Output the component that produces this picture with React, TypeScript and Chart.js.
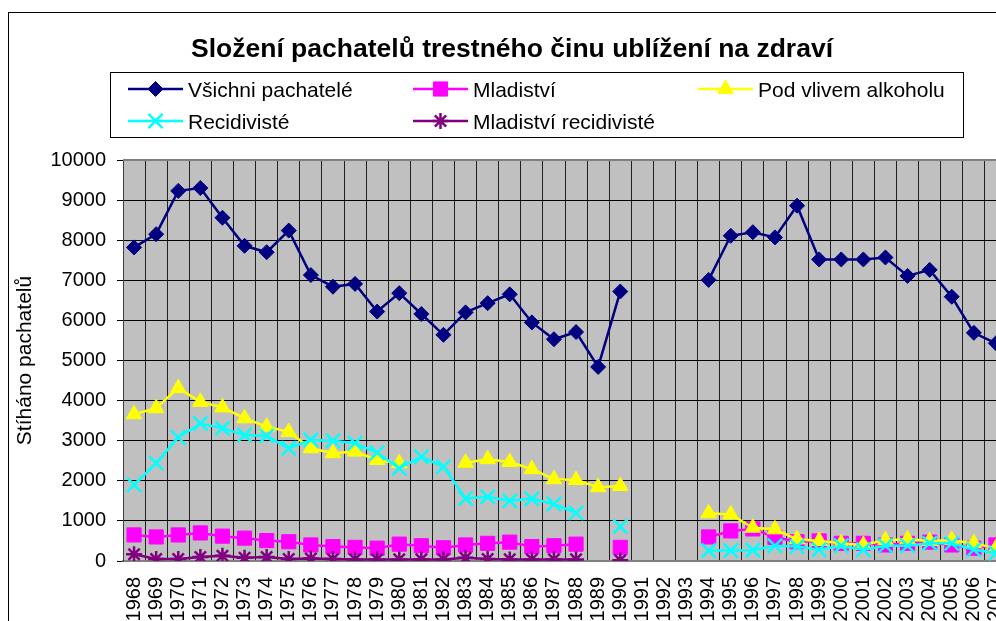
import React, { useEffect, useRef } from 'react';
import { Chart, registerables } from 'chart.js';
import { drawPoint } from 'chart.js/helpers';

Chart.register(...registerables);

const FONT = "'Liberation Sans', Arial, sans-serif";

const chartTitle = 'Složení pachatelů trestného činu ublížení na zdraví';
const yAxisTitle = 'Stíháno pachatelů';

const years = [
  '1968', '1969', '1970', '1971', '1972', '1973', '1974', '1975', '1976', '1977',
  '1978', '1979', '1980', '1981', '1982', '1983', '1984', '1985', '1986', '1987',
  '1988', '1989', '1990', '1991', '1992', '1993', '1994', '1995', '1996', '1997',
  '1998', '1999', '2000', '2001', '2002', '2003', '2004', '2005', '2006', '2007',
];

const vsichniPachatele = [
  7820, 8150, 9230, 9300, 8560, 7860, 7700, 8240, 7130, 6840,
  6910, 6220, 6680, 6160, 5640, 6200, 6430, 6650, 5950, 5530,
  5710, 4840, 6720, null, null, null, 7010, 8110, 8200, 8070,
  8860, 7520, 7520, 7520, 7570, 7110, 7260, 6590, 5690, 5430,
];

const mladistvi = [
  650, 600, 650, 700, 620, 570, 510, 480, 400, 360,
  340, 320, 420, 380, 330, 400, 440, 470, 360, 380,
  420, null, 340, null, null, null, 600, 750, 800, 590,
  480, 500, 440, 440, 400, 440, 470, 400, 320, 400,
];

const podVlivemAlkoholu = [
  3660, 3810, 4310, 3970, 3830, 3560, 3350, 3220, 2810, 2690,
  2730, 2520, 2440, null, null, 2450, 2540, 2470, 2290, 2040,
  2020, 1840, 1870, null, null, null, 1190, 1160, 830, 790,
  540, 500, 440, 400, 520, 540, 500, 520, 440, 320,
];

const recidiviste = [
  1900, 2440, 3080, 3430, 3310, 3140, 3120, 2810, 3020, 3000,
  2940, 2700, 2310, 2600, 2350, 1560, 1600, 1500, 1550, 1420,
  1200, null, 860, null, null, null, 260, 260, 270, 380,
  360, 280, 380, 280, 380, 380, 440, 440, 280, 200,
];

const mladistviRecidiviste = [
  170, 50, 50, 100, 130, 80, 100, 50, 60, 50,
  40, 40, 40, 40, 40, 80, 50, 40, 40, 40,
  40, null, 20, null, null, null, null, null, null, null,
  null, null, null, null, null, null, null, null, null, null,
];

const seriesNames = [
  'Všichni pachatelé',
  'Mladiství',
  'Pod vlivem alkoholu',
  'Recidivisté',
  'Mladiství recidivisté',
];

const W = 1040;
const H = 640;

const decorPlugin = {
  id: 'decor',
  beforeDraw(chart: any) {
    const { ctx, chartArea } = chart;
    ctx.save();
    ctx.fillStyle = '#ffffff';
    ctx.fillRect(0, 0, chart.width, chart.height);
    ctx.fillStyle = '#c0c0c0';
    ctx.fillRect(chartArea.left, chartArea.top, chartArea.right - chartArea.left, chartArea.bottom - chartArea.top);
    ctx.restore();
  },
  afterDraw(chart: any) {
    const { ctx, chartArea } = chart;
    ctx.save();
    // plot area top border
    ctx.strokeStyle = '#808080';
    ctx.lineWidth = 2;
    ctx.beginPath();
    ctx.moveTo(chartArea.left, chartArea.top);
    ctx.lineTo(chartArea.right, chartArea.top);
    ctx.stroke();
    // chart border
    ctx.strokeStyle = '#000000';
    ctx.lineWidth = 1;
    ctx.strokeRect(0.5, 0.5, chart.width + 10, chart.height + 10);
    // title
    ctx.fillStyle = '#000000';
    ctx.font = `bold 26.5px ${FONT}`;
    ctx.textAlign = 'center';
    ctx.textBaseline = 'alphabetic';
    ctx.fillText(chartTitle, 504, 45);
    // legend box
    ctx.strokeStyle = '#000000';
    ctx.lineWidth = 1;
    ctx.strokeRect(102.5, 60.5, 853, 65);
    const cols = [120, 405, 690];
    const rowsMid = [77, 109];
    const rowsBase = [85, 117];
    ctx.font = `21px ${FONT}`;
    ctx.textAlign = 'left';
    chart.data.datasets.forEach((ds: any, i: number) => {
      const col = i % 3;
      const row = Math.floor(i / 3);
      const x0 = cols[col];
      const y = rowsMid[row];
      ctx.strokeStyle = ds.borderColor;
      ctx.lineWidth = ds.borderWidth;
      ctx.beginPath();
      ctx.moveTo(x0, y);
      ctx.lineTo(x0 + 55, y);
      ctx.stroke();
      ctx.fillStyle = ds.pointBackgroundColor;
      ctx.strokeStyle = ds.pointBorderColor;
      ctx.lineWidth = ds.pointBorderWidth;
      drawPoint(ctx, { pointStyle: ds.pointStyle, radius: ds.pointRadius, borderWidth: ds.pointBorderWidth, rotation: 0 }, x0 + 27.5, y);
      ctx.fillStyle = '#000000';
      ctx.fillText(ds.label, x0 + 60, rowsBase[row]);
    });
    ctx.restore();
  },
};

export default function App() {
  const ref = useRef<HTMLCanvasElement | null>(null);

  useEffect(() => {
    if (!ref.current) return;
    const mk = (label: string, data: (number | null)[], color: string, style: string, radius: number, pbw: number, order: number) => ({
      label,
      data,
      borderColor: color,
      backgroundColor: color,
      borderWidth: 2.5,
      pointStyle: style,
      pointRadius: radius,
      pointBackgroundColor: color,
      pointBorderColor: color,
      pointBorderWidth: pbw,
      pointHoverRadius: radius,
      spanGaps: false,
      tension: 0,
      order,
    });
    const chart = new Chart(ref.current, {
      type: 'line',
      data: {
        labels: years,
        datasets: [
          mk(seriesNames[0], vsichniPachatele, '#000080', 'rectRot', 7.5, 1, 5),
          mk(seriesNames[1], mladistvi, '#ff00ff', 'rect', 10, 1, 4),
          mk(seriesNames[2], podVlivemAlkoholu, '#ffff00', 'triangle', 9, 1, 3),
          mk(seriesNames[3], recidiviste, '#00ffff', 'crossRot', 10, 2.5, 2),
          mk(seriesNames[4], mladistviRecidiviste, '#800080', 'star', 8, 2.5, 1),
        ] as any,
      },
      options: {
        animation: false,
        responsive: false,
        maintainAspectRatio: false,
        events: [],
        layout: { padding: { top: 148, left: 0, right: 41, bottom: 0 } },
        plugins: {
          legend: { display: false },
          title: { display: false },
          tooltip: { enabled: false },
        },
        scales: {
          x: {
            type: 'category',
            offset: true,
            grid: { offset: true, color: '#202020', lineWidth: 1, drawTicks: false },
            border: { color: '#808080', width: 2 },
            ticks: {
              autoSkip: false,
              maxRotation: 90,
              minRotation: 90,
              padding: 16,
              color: '#000000',
              font: { family: FONT, size: 20 },
            },
            afterFit: (s: any) => { s.height = 91; },
          },
          y: {
            min: 0,
            max: 10000,
            ticks: {
              stepSize: 1000,
              padding: 11,
              color: '#000000',
              font: { family: FONT, size: 20 },
              callback: (v: any) => String(v),
            },
            grid: { color: '#000000', lineWidth: 1, tickLength: 6 },
            border: { color: '#404040', width: 1 },
            title: {
              display: true,
              text: yAxisTitle,
              color: '#000000',
              font: { family: FONT, size: 21 },
              padding: { top: 5, bottom: 0 },
            },
            afterFit: (s: any) => { s.width = 115; },
          },
        },
      } as any,
      plugins: [decorPlugin],
    });
    return () => chart.destroy();
  }, []);

  return (
    <div style={{ position: 'fixed', left: 0, top: 0, width: '100%', height: '100%', overflow: 'hidden', background: '#ffffff' }}>
      <canvas ref={ref} width={W} height={H} style={{ position: 'absolute', left: 8, top: 12, width: W, height: H, display: 'block' }} />
    </div>
  );
}
